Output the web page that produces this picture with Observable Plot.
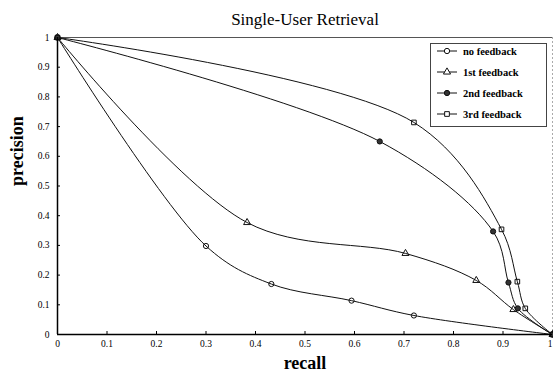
<!DOCTYPE html>
<html>
<head>
<meta charset="utf-8">
<script src="https://cdn.jsdelivr.net/npm/d3@7"></script>
<script src="https://cdn.jsdelivr.net/npm/@observablehq/plot@0.6"></script>
<style>
  html, body { margin: 0; padding: 0; background: #fff; }
  #wrap { position: relative; width: 553px; height: 376px; }
  #legend { position: absolute; left: 430px; top: 43px; width: 117px; height: 84px;
    border: 1.5px solid #444; background: #fff; box-sizing: border-box;
    font-family: "Liberation Serif", "DejaVu Serif", serif; font-size: 10.5px; font-weight: bold; }
  .row { position: absolute; left: 6px; height: 12px; display: flex; align-items: center; }
  .row svg { margin-right: 6px; }
</style>
</head>
<body>
<div id="wrap"></div>
<script>
const title = "Single-User Retrieval";
const xLabel = "recall";
const yLabel = "precision";
const seriesNames = ["no feedback", "1st feedback", "2nd feedback", "3rd feedback"];
const seriesSymbols = ["circle", "triangle", "circle", "square"];
const seriesFills = ["none", "none", "#333", "none"];

const recallNo   = [0, 0.30, 0.432, 0.594, 0.72, 1];
const precNo     = [1, 0.298, 0.17, 0.114, 0.064, 0];
const recall1st  = [0, 0.383, 0.703, 0.846, 0.921, 1];
const prec1st    = [1, 0.377, 0.273, 0.182, 0.084, 0];
const recall2nd  = [0, 0.651, 0.88, 0.911, 0.93, 1];
const prec2nd    = [1, 0.65, 0.347, 0.175, 0.088, 0];
const recall3rd  = [0, 0.72, 0.897, 0.929, 0.945, 1];
const prec3rd    = [1, 0.714, 0.354, 0.178, 0.088, 0];

const xTicks = [0, 0.1, 0.2, 0.3, 0.4, 0.5, 0.6, 0.7, 0.8, 0.9, 1];
const yTicks = [0, 0.1, 0.2, 0.3, 0.4, 0.5, 0.6, 0.7, 0.8, 0.9, 1];

const recalls = [recallNo, recall1st, recall2nd, recall3rd];
const precs = [precNo, prec1st, prec2nd, prec3rd];
const data = seriesNames.flatMap((s, i) =>
  recalls[i].map((r, j) => ({series: s, recall: r, precision: precs[i][j], idx: i})));

const serif = "'Liberation Serif', 'DejaVu Serif', serif";
const fmt = d => d === 0 ? "0" : d === 1 ? "1" : d.toFixed(1);

const W = 553, H = 376, mL = 57, mR = 1, mT = 37, mB = 42;
const fw = W - mL - mR, fh = H - mT - mB;

const chart = Plot.plot({
  width: W, height: H,
  marginLeft: mL, marginRight: mR, marginTop: mT, marginBottom: mB,
  style: {fontFamily: serif, background: "#fff", color: "#000", overflow: "visible"},
  x: {domain: [0, 1]},
  y: {domain: [0, 1]},
  marks: [
    Plot.ruleY([1], {stroke: "#555", strokeWidth: 1}),
    Plot.ruleX([1], {stroke: "#aaa", strokeWidth: 1, strokeDasharray: "2,2"}),
    Plot.tickX(xTicks, {x: d => d, insetTop: fh - 3, stroke: "#000"}),
    Plot.tickY(yTicks, {y: d => d, insetRight: fw - 3, stroke: "#000"}),
    Plot.axisX({ticks: xTicks.slice(0, -1), tickSize: 0, tickPadding: 6, tickFormat: fmt, fontSize: 9.5, label: null, fill: "#000"}),
    Plot.axisX({ticks: xTicks.slice(-1), tickSize: 0, tickPadding: 6, tickFormat: fmt, fontSize: 9.5, label: null, fill: "#000", textAnchor: "end", dx: 0}),
    Plot.axisY({ticks: yTicks, tickSize: 0, tickPadding: 8, tickFormat: fmt, fontSize: 9.5, label: null, fill: "#000"}),
    Plot.line(data, {x: "recall", y: "precision", z: "series", curve: "catmull-rom", stroke: "#111", strokeWidth: 1}),
    Plot.dot(data, {x: "recall", y: "precision", symbol: d => seriesSymbols[d.idx],
      fill: d => seriesFills[d.idx], stroke: "#111", strokeWidth: 1, r: 2.6}),
    Plot.ruleY([0], {stroke: "#000", strokeWidth: 1.5}),
    Plot.ruleX([0], {stroke: "#000", strokeWidth: 1.5}),
    Plot.text([title], {text: d => d, frameAnchor: "top", lineAnchor: "bottom", dy: -13, fontSize: 17, fill: "#000"}),
    Plot.text([xLabel], {text: d => d, frameAnchor: "bottom", dy: 34, fontSize: 18, fontWeight: "bold", fill: "#000"}),
    Plot.text([yLabel], {text: d => d, frameAnchor: "left", rotate: -90, dx: -40, fontSize: 18, fontWeight: "bold", fill: "#000"})
  ]
});
const wrap = document.getElementById("wrap");
wrap.appendChild(chart);

const legend = document.createElement("div");
legend.id = "legend";
const rowTops = [7, 28, 49, 70];
seriesNames.forEach((s, i) => {
  const row = document.createElement("div");
  row.className = "row";
  row.style.top = (rowTops[i] - 6) + "px";
  const sym = d3.create("svg").attr("width", 20).attr("height", 10);
  sym.append("line").attr("x1", 0).attr("x2", 20).attr("y1", 5).attr("y2", 5).attr("stroke", "#111");
  const symbolType = {circle: d3.symbolCircle, triangle: d3.symbolTriangle, square: d3.symbolSquare}[seriesSymbols[i]];
  sym.append("path").attr("d", d3.symbol(symbolType, 22)()).attr("transform", "translate(10,5)")
    .attr("fill", seriesFills[i] === "none" ? "#fff" : seriesFills[i]).attr("stroke", "#111");
  row.appendChild(sym.node());
  const t = document.createElement("span");
  t.textContent = s;
  row.appendChild(t);
  legend.appendChild(row);
});
wrap.appendChild(legend);
</script>
</body>
</html>
